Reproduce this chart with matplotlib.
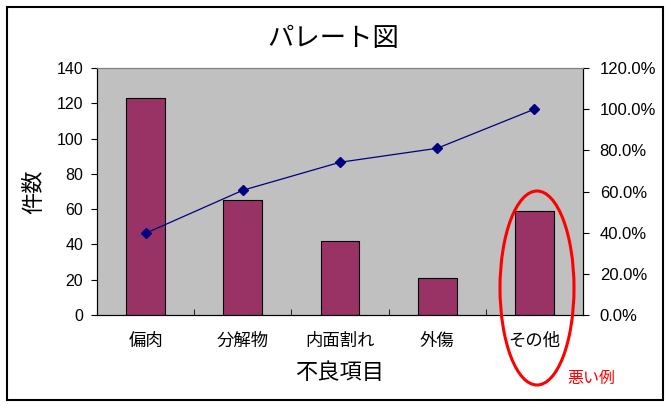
import matplotlib.pyplot as plt
import matplotlib.patches as patches
from matplotlib.ticker import FuncFormatter, MultipleLocator, FixedLocator
import numpy as np

plt.rcParams['font.family'] = ['Noto Sans CJK JP', 'DejaVu Sans']

categories = ['偏肉', '分解物', '内面割れ', '外傷', 'その他']
counts = [123, 65, 42, 21, 59]
cum_pct = [39.7, 60.6, 74.2, 81.0, 100.0]

fig = plt.figure(figsize=(6.71, 4.08), dpi=100)
# outer chart border
fig.patches.append(patches.Rectangle((7/671, 1-400/408), 656/671, 393/408,
                                     transform=fig.transFigure, fill=False,
                                     edgecolor='black', linewidth=1.5))

ax = fig.add_axes([97/671, 1-315/408, 486/671, 247/408])
ax.set_facecolor('#c0c0c0')
pos = np.arange(len(categories))
ax.bar(pos, counts, width=0.4, color='#993366', edgecolor='black', linewidth=0.8, zorder=2)
ax.set_xlim(-0.5, len(categories)-0.5)
ax.set_ylim(0, 140)
ax.yaxis.set_major_locator(MultipleLocator(20))
ax.set_xticks(pos)
ax.set_xticklabels(categories, fontsize=12.5)
ax.tick_params(axis='x', length=0, pad=12)
ax.xaxis.set_minor_locator(FixedLocator(pos[:-1] + 0.5))
ax.tick_params(axis='x', which='minor', direction='in', length=4)
ax.tick_params(axis='y', direction='out', length=4, labelsize=11.5, pad=6)
for lab in ax.get_yticklabels():
    lab.set_family(['Liberation Sans'])
ax.spines['top'].set_color('#808080')
ax.set_ylabel('件数', fontsize=16, va='center')
ax.yaxis.set_label_coords(-0.130, 0.5)
ax.set_xlabel('不良項目', fontsize=16, va='center')
ax.xaxis.set_label_coords(0.5, -0.231)

ax2 = ax.twinx()
ax2.plot(pos, cum_pct, color='#000080', linewidth=0.9, marker='D', markersize=5, zorder=3)
ax2.set_ylim(0, 120)
ax2.yaxis.set_major_locator(MultipleLocator(20))
ax2.yaxis.set_major_formatter(FuncFormatter(lambda v, p: '%.1f%%' % v))
ax2.tick_params(axis='y', direction='out', length=4, labelsize=12, pad=8)
for lab in ax2.get_yticklabels():
    lab.set_family(['Liberation Sans'])
ax2.spines['top'].set_color('#808080')

fig.text(333/671, 1-38/408, 'パレート図', ha='center', va='center', fontsize=19)

# red ellipse highlighting "その他"
fig.patches.append(patches.Ellipse((537/671, 1-288/408), 74/671, 194/408,
                                   transform=fig.transFigure, fill=False,
                                   edgecolor='red', linewidth=2.2))
fig.text(567/671, 1-378/408, '悪い例', color='red', ha='left', va='center', fontsize=11.5)

fig.savefig('out.png', dpi=100)
